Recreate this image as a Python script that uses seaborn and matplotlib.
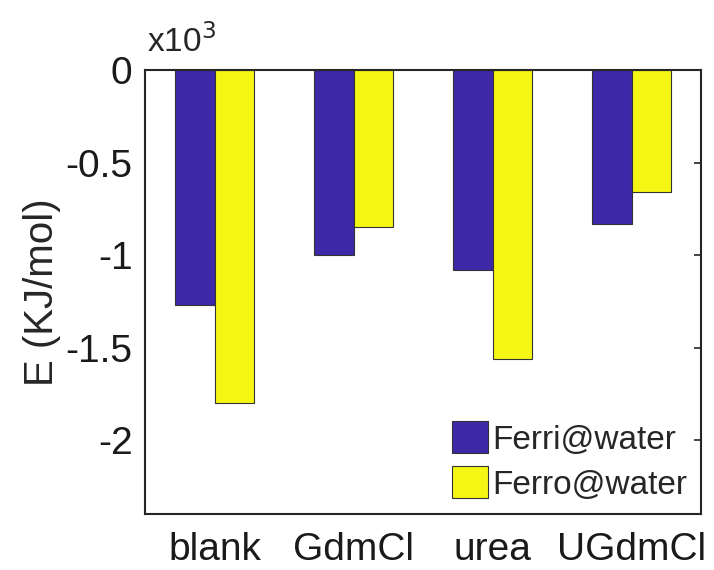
import pandas as pd
import matplotlib
matplotlib.use("Agg")
import matplotlib.pyplot as plt
import seaborn as sns

# values (units of 10^3 KJ/mol)
categories = ['blank', 'GdmCl', 'urea', 'UGdmCl']
ferri = [-1.27, -1.00, -1.08, -0.83]
ferro = [-1.80, -0.85, -1.56, -0.66]
series = ['Ferri@water', 'Ferro@water']
yticks = [0, -0.5, -1, -1.5, -2]
ytick_labels = ['0', '-0.5', '-1', '-1.5', '-2']

df = pd.DataFrame({
    'condition': categories * 2,
    'energy': ferri + ferro,
    'system': [series[0]] * 4 + [series[1]] * 4,
})

sns.set_style('white')
plt.rcParams['font.family'] = ['Liberation Sans', 'DejaVu Sans']

fig = plt.figure(figsize=(7.14, 5.70), dpi=100)
ax = fig.add_axes([0.2031, 0.0982, 0.7787, 0.779])

sns.barplot(data=df, x='condition', y='energy', hue='system', order=categories,
            hue_order=series, palette=['#3d28a8', '#f6f614'], width=0.57,
            edgecolor='#333333', linewidth=0.8, saturation=1, ax=ax)

ax.set_xlim(-0.5, 3.5)
ax.set_ylim(-2.4, 0)
ax.set_yticks(yticks)
ax.set_yticklabels(ytick_labels)
ax.set_xlabel('')
ax.set_ylabel('E (KJ/mol)', fontsize=29, labelpad=3)
ax.tick_params(axis='both', labelsize=28, direction='in', length=5, width=1.2,
               top=True, right=True, color='#262626', labelcolor='#1a1a1a')
ax.tick_params(axis='x', pad=13)
ax.tick_params(axis='y', pad=9)
for sp in ax.spines.values():
    sp.set_linewidth(1.5)
    sp.set_color('#262626')

fig.text(0.206, 0.9088, r'x10$^3$', fontsize=24, ha='left', va='baseline')

ax.legend(loc='lower right', frameon=False, fontsize=24, handlelength=1.08,
          handleheight=1.1, handletextpad=0.12, labelspacing=0.32,
          borderpad=0, borderaxespad=0, bbox_to_anchor=(0.975, 0.03))

fig.savefig('out.png', dpi=100)
